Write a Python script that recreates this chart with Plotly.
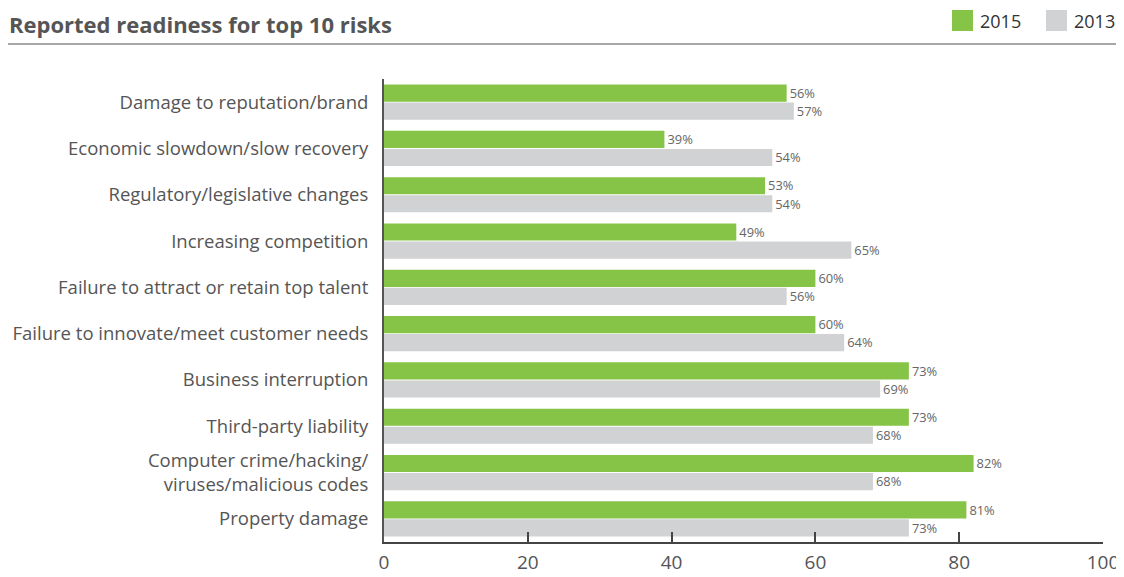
import plotly.graph_objects as go

categories = [
    "Damage to reputation/brand",
    "Economic slowdown/slow recovery",
    "Regulatory/legislative changes",
    "Increasing competition",
    "Failure to attract or retain top talent",
    "Failure to innovate/meet customer needs",
    "Business interruption",
    "Third-party liability",
    "Computer crime/hacking/<br>viruses/malicious codes",
    "Property damage",
]
values_2015 = [56, 39, 53, 49, 60, 60, 73, 73, 82, 81]
values_2013 = [57, 54, 54, 65, 56, 64, 69, 68, 68, 73]
x_ticks = [0, 20, 40, 60, 80, 100]

GREEN = "#86C447"
GRAY = "#D1D2D4"
TXT = "#555555"
FONT = "Open Sans"

# page body has an 8px margin; figure pixel = reference pixel - 8
OFF = 8
W, H = 1116, 569
L, T = 384 - OFF, 79 - OFF
R = W - (1103 - OFF)
B = H - (542 - OFF)
PW, PH = W - L - R, H - T - B


def px(x):
    return (x - OFF - L) / PW


def py(y):
    return 1 - (y - OFF - T) / PH


fig = go.Figure()
for name, vals, col in [("2015", values_2015, GREEN), ("2013", values_2013, GRAY)]:
    fig.add_trace(go.Bar(
        y=categories, x=vals, name=name, orientation="h",
        marker=dict(color=col, line=dict(width=0)),
        text=[f"{v}%" for v in vals], textposition="outside",
        textfont=dict(size=13.5, color="#666666", family=FONT),
        cliponaxis=False, showlegend=False,
    ))

fig.update_layout(
    width=W, height=H,
    margin=dict(l=L, r=R, t=T, b=B, pad=0, autoexpand=False),
    paper_bgcolor="white", plot_bgcolor="white",
    barmode="group", bargap=0.22, bargroupgap=0.05,
    font=dict(family=FONT, color=TXT),
    xaxis=dict(
        range=[0, 100], tickvals=x_ticks, ticks="inside", ticklen=10,
        tickcolor="#444444", tickwidth=1.5, showgrid=False, zeroline=False,
        showline=True, linecolor="#444444", linewidth=1.5, automargin=False,
        tickfont=dict(size=19, color=TXT), ticklabelstandoff=2,
    ),
    yaxis=dict(
        autorange="reversed", showgrid=False, zeroline=False, ticks="",
        showline=True, linecolor="#555555", linewidth=2, automargin=False,
        tickfont=dict(size=18.5, color=TXT), ticklabelstandoff=10,
    ),
)

# Title and rule
fig.add_annotation(text="<b>Reported readiness for top 10 risks</b>", xref="paper", yref="paper",
                   x=px(8), y=py(24), xanchor="left", yanchor="middle", borderpad=0,
                   showarrow=False, font=dict(size=22, color=TXT, family=FONT))
fig.add_shape(type="line", xref="paper", yref="paper",
              x0=px(8), x1=px(1122), y0=py(44), y1=py(44),
              line=dict(color="#8A8A8A", width=1.5))

# Legend
for label, col, x0 in [("2015", GREEN, 952), ("2013", GRAY, 1046)]:
    fig.add_shape(type="rect", xref="paper", yref="paper",
                  x0=px(x0), x1=px(x0 + 21), y0=py(31), y1=py(10),
                  fillcolor=col, line=dict(width=0))
    fig.add_annotation(text=label, xref="paper", yref="paper",
                       x=px(x0 + 26), y=py(21), xanchor="left", yanchor="middle",
                       showarrow=False, font=dict(size=18, color="#333333", family=FONT))

fig.write_html("out.html")
